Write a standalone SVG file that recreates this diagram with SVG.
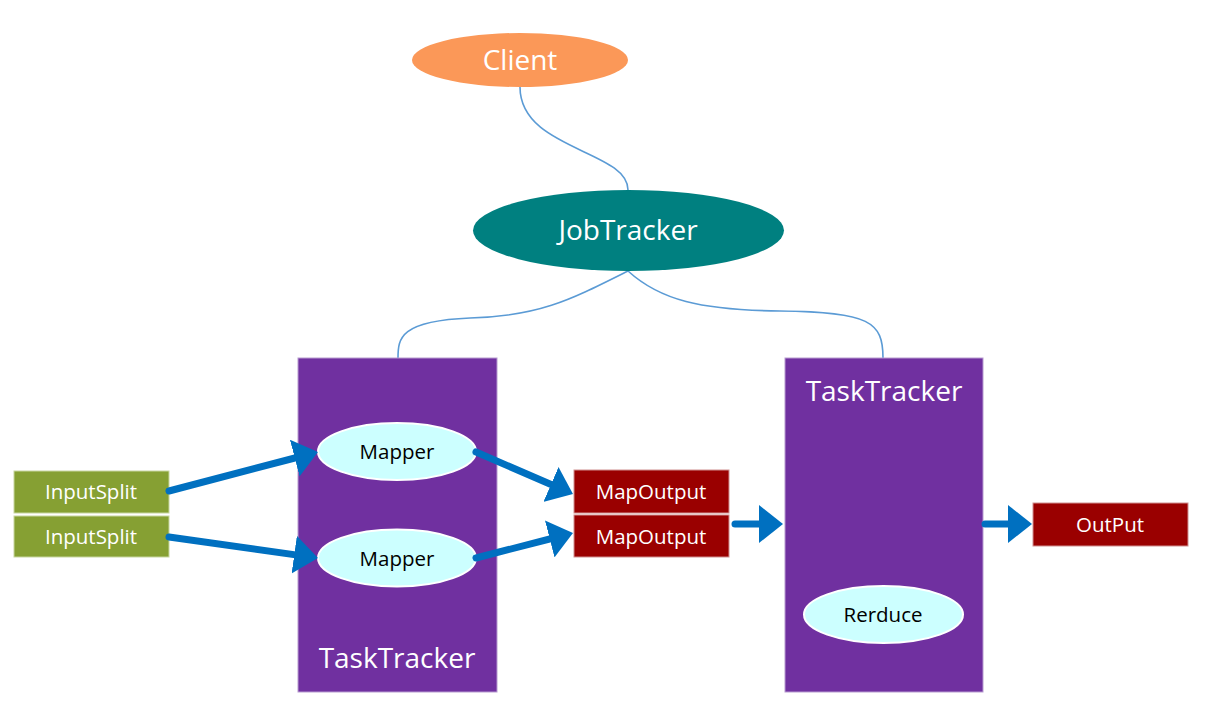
<svg xmlns="http://www.w3.org/2000/svg" width="1209" height="714" viewBox="0 0 1209 714">
<style>
text{font-family:"Open Sans","Noto Sans","Liberation Sans",sans-serif;text-anchor:middle;dominant-baseline:central}
.w{fill:#FFFFFF}
.k{fill:#000000}
.big{font-size:28px}
.sm{font-size:20.5px}
.tt{fill:#7030A0;stroke:#B79BD0;stroke-width:1}
.ell{fill:#CCFFFF;stroke:#FFFFFF;stroke-width:2}
.green{fill:#86A033;stroke:#C7D6A0;stroke-width:1}
.red{fill:#9A0000;stroke:#D09090;stroke-width:1}
.link{fill:none;stroke:#5B9BD5;stroke-width:1.6}
.arr{fill:none;stroke:#0070C0;stroke-width:7;stroke-linecap:round;marker-end:url(#ah)}
</style>
<defs>
<marker id="ah" viewBox="0 0 24 38" refX="14" refY="19" markerWidth="24" markerHeight="38" markerUnits="userSpaceOnUse" orient="auto">
<path d="M0,0 L24,19 L0,38 Z" fill="#0070C0"/>
</marker>
</defs>
<rect width="1209" height="714" fill="#FFFFFF"/>
<g id="connectors">
<path class="link" d="M520,87 C520,150 628,150 628,190"/>
<path class="link" d="M628,271 C570,300 540,316 470,318 C400,321 398,338 398,358"/>
<path class="link" d="M628,271 C660,300 700,310 780,311 C870,312 883,322 883,358"/>
</g>
<g id="client">
<ellipse cx="520" cy="60" rx="108" ry="27" fill="#FB9858"/>
<text class="w big" x="520" y="59">Client</text>
</g>
<g id="jobtracker">
<ellipse cx="628.5" cy="230.5" rx="155.5" ry="40.5" fill="#008080"/>
<text class="w big" x="628" y="229">JobTracker</text>
</g>
<g id="tasktracker-left">
<rect class="tt" x="298" y="358" width="199" height="334"/>
<text class="w big" x="397" y="657">TaskTracker</text>
</g>
<g id="tasktracker-right">
<rect class="tt" x="785" y="358" width="198" height="334"/>
<text class="w big" x="884" y="390">TaskTracker</text>
</g>
<g id="mapper1">
<ellipse class="ell" cx="397" cy="451.5" rx="79" ry="28.5"/>
<text class="k sm" x="397" y="451">Mapper</text>
</g>
<g id="mapper2">
<ellipse class="ell" cx="397" cy="558" rx="79" ry="28.5"/>
<text class="k sm" x="397" y="558">Mapper</text>
</g>
<g id="reduce">
<ellipse class="ell" cx="883.5" cy="614.5" rx="79.5" ry="28.5"/>
<text class="k sm" x="883" y="614">Rerduce</text>
</g>
<g id="inputsplit1">
<rect class="green" x="14" y="471" width="155" height="42"/>
<text class="w sm" x="91" y="491">InputSplit</text>
</g>
<g id="inputsplit2">
<rect class="green" x="14" y="516" width="155" height="41"/>
<text class="w sm" x="91" y="536">InputSplit</text>
</g>
<g id="mapoutput1">
<rect class="red" x="574" y="470" width="155" height="43"/>
<text class="w sm" x="651" y="491">MapOutput</text>
</g>
<g id="mapoutput2">
<rect class="red" x="574" y="515" width="155" height="42"/>
<text class="w sm" x="651" y="536">MapOutput</text>
</g>
<g id="output">
<rect class="red" x="1033" y="503" width="155" height="43"/>
<text class="w sm" x="1110" y="524">OutPut</text>
</g>
<g id="arrows">
<path class="arr" d="M169,491 L308.3,454.5"/>
<path class="arr" d="M169,537 L308.1,556.6"/>
<path class="arr" d="M476,452 L563.8,490"/>
<path class="arr" d="M476,558 L563.3,535.5"/>
<path class="arr" d="M735,524 L773,524"/>
<path class="arr" d="M985,524 L1022,524"/>
</g>
</svg>
